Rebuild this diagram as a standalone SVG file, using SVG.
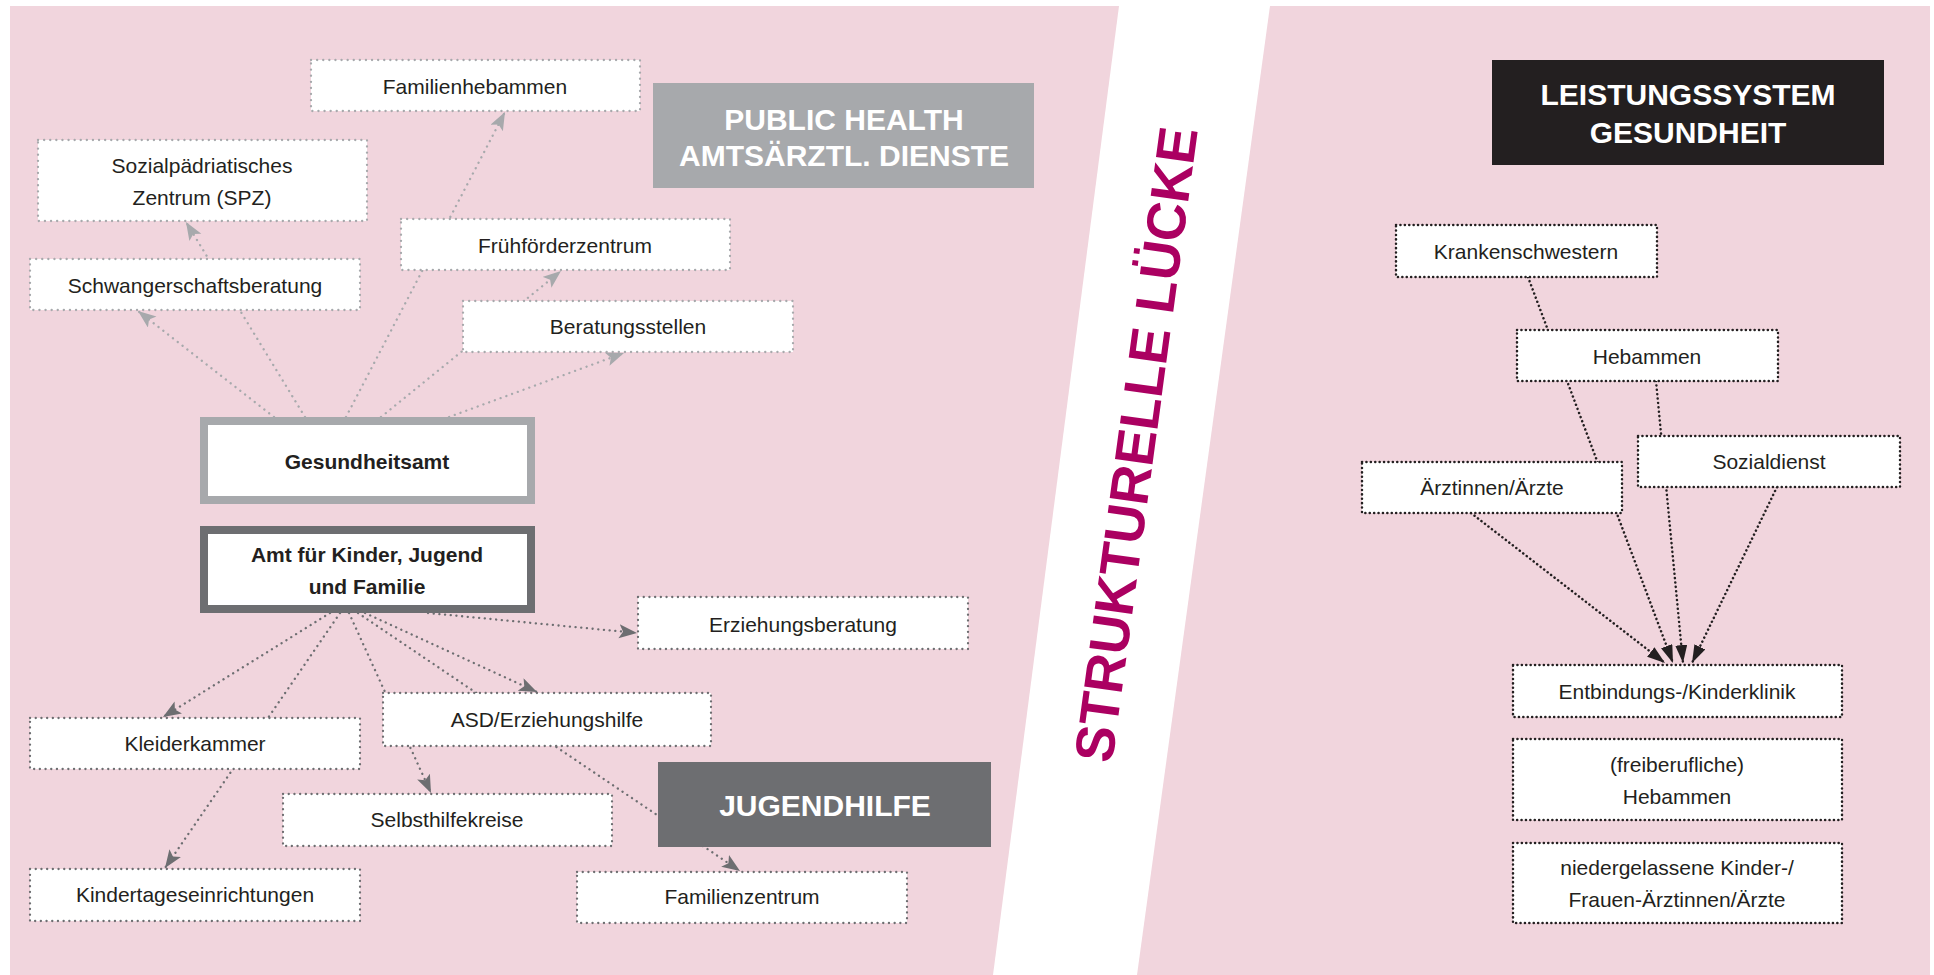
<svg xmlns="http://www.w3.org/2000/svg" width="1934" height="975" viewBox="0 0 1934 975">
<style>
.bg{fill:#f1d5dd}
.t{font-family:"Liberation Sans",Arial,sans-serif;font-size:21px;fill:#231f20;text-anchor:middle}
.b{font-weight:bold}
.h{font-family:"Liberation Sans",Arial,sans-serif;font-size:30px;font-weight:bold;fill:#ffffff;text-anchor:middle}
.bx{fill:#ffffff;stroke-linecap:round}
.g{stroke:#a7a9ac;stroke-width:2.3;stroke-dasharray:0.1 6}
.d{stroke:#6d6e71;stroke-width:2.3;stroke-dasharray:0.1 5.6}
.k{stroke:#231f20;stroke-width:2.5;stroke-dasharray:0.1 4.3}
.cg{fill:none;stroke:#a7a9ac;stroke-width:2.3;stroke-dasharray:0.1 6;stroke-linecap:round}
.cd{fill:none;stroke:#6d6e71;stroke-width:2.3;stroke-dasharray:0.1 5.6;stroke-linecap:round}
.ck{fill:none;stroke:#231f20;stroke-width:2.5;stroke-dasharray:0.1 4.3;stroke-linecap:round}
</style>
<defs>
<marker id="ag" markerUnits="userSpaceOnUse" markerWidth="20" markerHeight="16" refX="18" refY="7" orient="auto"><path d="M0,0 L18,7 L0,14 L4,7 z" fill="#a7a9ac"/></marker>
<marker id="ad" markerUnits="userSpaceOnUse" markerWidth="20" markerHeight="16" refX="18" refY="7" orient="auto"><path d="M0,0 L18,7 L0,14 L4,7 z" fill="#6d6e71"/></marker>
<marker id="ak" markerUnits="userSpaceOnUse" markerWidth="20" markerHeight="14" refX="18" refY="6" orient="auto"><path d="M0,0 L18,6 L0,12 z" fill="#231f20"/></marker>
</defs>

<g id="background">
<polygon class="bg" points="10,6 1119,6 993,975 10,975"/>
<polygon class="bg" points="1270,6 1930,6 1930,975 1137,975"/>
</g>

<g id="connectors">
<line class="cg" x1="274" y1="417" x2="138" y2="311" marker-end="url(#ag)"/>
<line class="cg" x1="305" y1="417" x2="186" y2="222" marker-end="url(#ag)"/>
<line class="cg" x1="346" y1="417" x2="505" y2="112" marker-end="url(#ag)"/>
<line class="cg" x1="381" y1="417" x2="561" y2="271" marker-end="url(#ag)"/>
<line class="cg" x1="449" y1="417" x2="624" y2="353" marker-end="url(#ag)"/>
<line class="cd" x1="330" y1="613" x2="163" y2="717" marker-end="url(#ad)"/>
<line class="cd" x1="340" y1="613" x2="165" y2="868" marker-end="url(#ad)"/>
<line class="cd" x1="349" y1="613" x2="431" y2="793" marker-end="url(#ad)"/>
<line class="cd" x1="358" y1="613" x2="740" y2="871" marker-end="url(#ad)"/>
<line class="cd" x1="365" y1="613" x2="537" y2="692" marker-end="url(#ad)"/>
<line class="cd" x1="428" y1="613" x2="637" y2="633" marker-end="url(#ad)"/>
<line class="ck" x1="1528" y1="277" x2="1673" y2="663" marker-end="url(#ak)"/>
<line class="ck" x1="1656" y1="381" x2="1683" y2="663" marker-end="url(#ak)"/>
<line class="ck" x1="1471" y1="513" x2="1665" y2="663" marker-end="url(#ak)"/>
<line class="ck" x1="1777" y1="487" x2="1692" y2="663" marker-end="url(#ak)"/>
</g>

<g id="n-public-health">
<rect x="653" y="83" width="381" height="105" fill="#a7a9ac"/>
<text class="h" x="844" y="130">PUBLIC HEALTH</text>
<text class="h" x="844" y="166">AMTSÄRZTL. DIENSTE</text>
</g>
<g id="n-familienhebammen">
<rect class="bx g" x="311" y="60" width="329" height="51"/>
<text class="t" x="475" y="94">Familienhebammen</text>
</g>
<g id="n-spz">
<rect class="bx g" x="38" y="140" width="329" height="81"/>
<text class="t" x="202" y="173">Sozialpädriatisches</text>
<text class="t" x="202" y="205">Zentrum (SPZ)</text>
</g>
<g id="n-schwangerschaftsberatung">
<rect class="bx g" x="30" y="259" width="330" height="51"/>
<text class="t" x="195" y="293">Schwangerschaftsberatung</text>
</g>
<g id="n-fruehfoerderzentrum">
<rect class="bx g" x="401" y="219" width="329" height="51"/>
<text class="t" x="565" y="253">Frühförderzentrum</text>
</g>
<g id="n-beratungsstellen">
<rect class="bx g" x="463" y="301" width="330" height="51"/>
<text class="t" x="628" y="334">Beratungsstellen</text>
</g>
<g id="n-gesundheitsamt">
<rect x="204" y="421" width="327" height="79" fill="#ffffff" stroke="#a7a9ac" stroke-width="8"/>
<text class="t b" x="367" y="469">Gesundheitsamt</text>
</g>
<g id="n-amt-kinder">
<rect x="204" y="530" width="327" height="79" fill="#ffffff" stroke="#6d6e71" stroke-width="8"/>
<text class="t b" x="367" y="562">Amt für Kinder, Jugend</text>
<text class="t b" x="367" y="594">und Familie</text>
</g>
<g id="n-erziehungsberatung">
<rect class="bx d" x="638" y="597" width="330" height="52"/>
<text class="t" x="803" y="632">Erziehungsberatung</text>
</g>
<g id="n-asd">
<rect class="bx d" x="383" y="693" width="328" height="53"/>
<text class="t" x="547" y="727">ASD/Erziehungshilfe</text>
</g>
<g id="n-kleiderkammer">
<rect class="bx d" x="30" y="718" width="330" height="51"/>
<text class="t" x="195" y="751">Kleiderkammer</text>
</g>
<g id="n-selbsthilfekreise">
<rect class="bx d" x="283" y="794" width="329" height="52"/>
<text class="t" x="447" y="827">Selbsthilfekreise</text>
</g>
<g id="n-kindertageseinrichtungen">
<rect class="bx d" x="30" y="869" width="330" height="52"/>
<text class="t" x="195" y="902">Kindertageseinrichtungen</text>
</g>
<g id="n-jugendhilfe">
<rect x="658" y="762" width="333" height="85" fill="#6d6e71"/>
<text class="h" x="825" y="816">JUGENDHILFE</text>
</g>
<g id="n-familienzentrum">
<rect class="bx d" x="577" y="872" width="330" height="51"/>
<text class="t" x="742" y="904">Familienzentrum</text>
</g>

<g id="gap-label">
<text transform="translate(1112,764) rotate(-82.3)" x="0" y="0" font-family="'Liberation Sans',Arial,sans-serif" font-size="55" font-weight="bold" fill="#ab0061" textLength="640" lengthAdjust="spacingAndGlyphs">STRUKTURELLE LÜCKE</text>
</g>

<g id="n-leistungssystem">
<rect x="1492" y="60" width="392" height="105" fill="#231f20"/>
<text class="h" x="1688" y="105">LEISTUNGSSYSTEM</text>
<text class="h" x="1688" y="143">GESUNDHEIT</text>
</g>
<g id="n-krankenschwestern">
<rect class="bx k" x="1396" y="225" width="261" height="52"/>
<text class="t" x="1526" y="259">Krankenschwestern</text>
</g>
<g id="n-hebammen">
<rect class="bx k" x="1517" y="330" width="261" height="51"/>
<text class="t" x="1647" y="364">Hebammen</text>
</g>
<g id="n-sozialdienst">
<rect class="bx k" x="1638" y="436" width="262" height="51"/>
<text class="t" x="1769" y="469">Sozialdienst</text>
</g>
<g id="n-aerzte">
<rect class="bx k" x="1362" y="462" width="260" height="51"/>
<text class="t" x="1492" y="495">Ärztinnen/Ärzte</text>
</g>
<g id="n-entbindungsklinik">
<rect class="bx k" x="1513" y="665" width="329" height="52"/>
<text class="t" x="1677" y="699">Entbindungs-/Kinderklinik</text>
</g>
<g id="n-freiberufliche-hebammen">
<rect class="bx k" x="1513" y="739" width="329" height="81"/>
<text class="t" x="1677" y="772">(freiberufliche)</text>
<text class="t" x="1677" y="804">Hebammen</text>
</g>
<g id="n-niedergelassene">
<rect class="bx k" x="1513" y="843" width="329" height="80"/>
<text class="t" x="1677" y="875">niedergelassene Kinder-/</text>
<text class="t" x="1677" y="907">Frauen-Ärztinnen/Ärzte</text>
</g>
</svg>
